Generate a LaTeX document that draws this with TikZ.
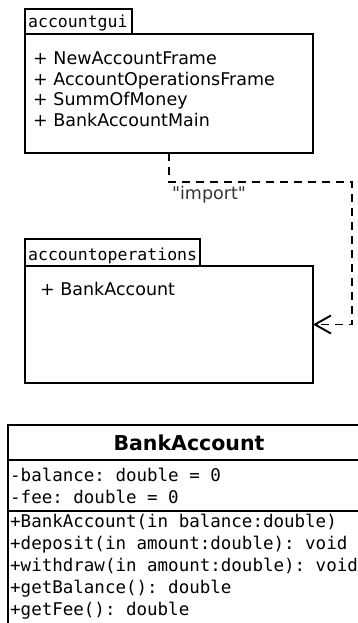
\documentclass[tikz,border=0pt]{standalone}
\usepackage{fontspec}
\setmainfont{DejaVu Sans}
\setmonofont{DejaVu Sans Mono}
\usetikzlibrary{arrows.meta,positioning}

\begin{document}
\begin{tikzpicture}[x=1pt,y=-1pt,
  box/.style={draw, line width=1.9pt, inner sep=0pt, outer sep=0pt, anchor=north west},
  tabname/.style={anchor=base west, inner sep=0pt, font=\ttfamily\fontsize{16.5}{20}\selectfont},
  member/.style={anchor=base west, inner sep=0pt, font=\fontsize{17.5}{20}\selectfont},
  code/.style={anchor=base west, inner sep=0pt, font=\ttfamily\fontsize{17.5}{22}\selectfont},
  dep/.style={line width=1.9pt, dash pattern=on 8pt off 6pt,
    -{Straight Barb[length=16pt,width=18pt,line width=1.9pt]}}]
\useasboundingbox (0,0) rectangle (358,623);

% package accountgui
\node[box, minimum width=107pt, minimum height=25pt] (guitab) at (25,9) {};
\node[box, minimum width=288pt, minimum height=119pt] (guibox) at (25,34) {};
\node[tabname] (guiname) at (28,28) {accountgui};
\node[member] (gui1) at (33,65) {+ NewAccountFrame};
\node[member] (gui2) at (33,86) {+ AccountOperationsFrame};
\node[member] (gui3) at (33,106) {+ SummOfMoney};
\node[member] (gui4) at (33,127) {+ BankAccountMain};

% package accountoperations
\node[box, minimum width=175pt, minimum height=27pt] (opstab) at (25,239) {};
\node[box, minimum width=288pt, minimum height=117pt] (opsbox) at (25,266) {};
\node[tabname] (opsname) at (28,260) {accountoperations};
\node[member] (ops1) at (40,295) {+ BankAccount};

% dependency
\coordinate (bend) at (352,182);
\draw[dep] (guibox.south) |- (bend) |- (opsbox.east);
\node[member, anchor=base, text=black!80] (imp) at (209,199) {\textquotedbl import\textquotedbl};

% class BankAccount
\node[box, minimum width=362pt, minimum height=215pt] (bankbox) at (8,425) {};
\draw[line width=1.9pt] (8,460) -- (370,460);
\draw[line width=1.9pt] (8,511) -- (370,511);
\node[anchor=base, inner sep=0pt, font=\bfseries\fontsize{20.5}{24}\selectfont] (bankname) at (189,450) {BankAccount};
\node[code] (attr1) at (10,481) {-balance: double = 0};
\node[code] (attr2) at (10,503) {-fee: double = 0};
\node[code] (op1) at (10,527) {+BankAccount(in balance:double)};
\node[code] (op2) at (10,549) {+deposit(in amount:double): void};
\node[code] (op3) at (10,571) {+withdraw(in amount:double): void};
\node[code] (op4) at (10,593) {+getBalance(): double};
\node[code] (op5) at (10,615) {+getFee(): double};
\end{tikzpicture}
\end{document}
